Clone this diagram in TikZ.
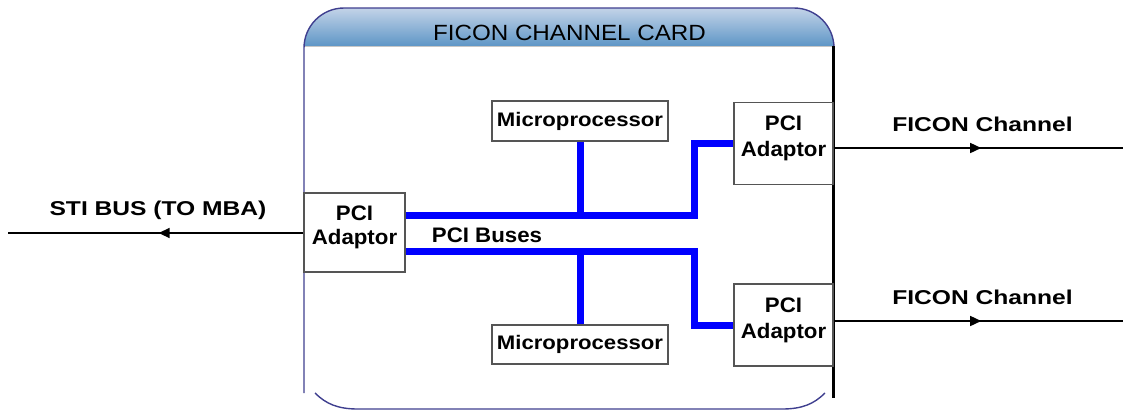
\documentclass[tikz,border=0pt]{standalone}
\usepackage{fontspec}
\setmainfont{Liberation Sans}
\newfontfamily\titlefont{Liberation Sans}[FakeStretch=1.1]
\newfontfamily\boxfont{Liberation Sans}[FakeStretch=1.06]
\newfontfamily\mpfont{Liberation Sans}[FakeStretch=1.13]
\newfontfamily\outfont{Liberation Sans}[FakeStretch=1.23]
\usetikzlibrary{arrows.meta,decorations.markings}
\definecolor{navy}{HTML}{3F3F8F}
\definecolor{hdtop}{HTML}{C3D3E8}
\definecolor{hdbot}{HTML}{5E96C6}
\definecolor{busblue}{HTML}{0000FF}
\definecolor{boxline}{HTML}{555555}
\newcommand{\lowpad}{\rule[-14.4pt]{0pt}{1pt}}
\tikzset{
  adbox/.style={draw=boxline, line width=1.2pt, fill=white, inner sep=0pt, align=center,
    font=\boxfont\bfseries\fontsize{21}{24}\selectfont},
  mpbox/.style={draw=boxline, line width=1.2pt, fill=white, inner sep=0pt,
    minimum width=176pt, minimum height=40pt, font=\mpfont\bfseries\fontsize{19.6}{22}\selectfont},
  bus/.style={draw=busblue, line width=7pt},
  sig/.style={line width=1.5pt, postaction={decorate}},
  outlbl/.style={font=\outfont\bfseries\fontsize{20}{24}\selectfont, inner sep=0pt}
}
\begin{document}
\begin{tikzpicture}[x=1pt,y=-1pt]
\useasboundingbox (0,0) rectangle (1123,410);
% card
\begin{scope}
  \clip[rounded corners=40pt] (304,409) -- (304,8) -- (834,8) -- (834,409) -- cycle;
  \shade[top color=hdtop, bottom color=hdbot] (304,8) rectangle (834,46);
\end{scope}
\draw[gray!45, line width=1pt] (304,46) -- (834,46);
\draw[navy, line width=1.4pt, rounded corners=40pt] (304,393) -- (304,8) -- (834,8) -- (834,393);
\draw[navy, line width=1.4pt] (315,393) .. controls (326,404) and (338,409) .. (358,409)
  -- (782,409) .. controls (802,409) and (814,404) .. (825,393);
\draw[line width=3pt] (833,46) -- (833,398);
\node[anchor=base, inner sep=0pt, font=\titlefont\fontsize{22}{26}\selectfont] (title) at (569.5,40) {FICON CHANNEL CARD};
% boxes
\node[adbox, minimum width=101pt, minimum height=79pt] (la) at (354.5,232.5) {PCI\\Adaptor\lowpad};
\node[adbox, minimum width=99pt, minimum height=82pt] (ra1) at (783.5,143.5) {PCI\\[2pt]Adaptor\lowpad};
\node[adbox, minimum width=99pt, minimum height=82pt] (ra2) at (783.5,325) {PCI\\[2pt]Adaptor\lowpad};
\node[mpbox] (mp1) at (580,121) {Microprocessor};
\node[mpbox, minimum height=39pt] (mp2) at (580,344.5) {Microprocessor};
% buses
\coordinate (b1) at (694,215);
\coordinate (b2) at (694,251);
\draw[bus] (la.east |- b1) -- (b1) -- (b1 |- ra1.west) -- (ra1.west);
\draw[bus] (mp1.south) -- (mp1.south |- b1);
\draw[bus] (la.east |- b2) -- (b2) -- (b2 |- ra2.west) -- (ra2.west);
\draw[bus] (mp2.north) -- (mp2.north |- b2);
\node[anchor=base, inner sep=0pt, font=\boxfont\bfseries\fontsize{21}{24}\selectfont] (buses) at (487,242) {PCI Buses};
% external signals
\coordinate (w) at (8,233);
\coordinate (f1) at (1123,148);
\coordinate (f2) at (1123,321);
\draw[sig, decoration={markings, mark=at position 0.49 with {\arrow{Triangle[length=11pt,width=10pt]}}}]
  (la.west |- w) -- (w);
\draw[sig, decoration={markings, mark=at position 0.51 with {\arrow{Triangle[length=11pt,width=10pt]}}}]
  (ra1.east |- f1) -- (f1);
\draw[sig, decoration={markings, mark=at position 0.51 with {\arrow{Triangle[length=11pt,width=10pt]}}}]
  (ra2.east |- f2) -- (f2);
\node[outlbl, anchor=base] (sti) at (158,215) {STI BUS (TO MBA)};
\node[outlbl, anchor=base] (fc1) at (982.5,131) {FICON Channel};
\node[outlbl, anchor=base] (fc2) at (982.5,304) {FICON Channel};
\end{tikzpicture}
\end{document}
